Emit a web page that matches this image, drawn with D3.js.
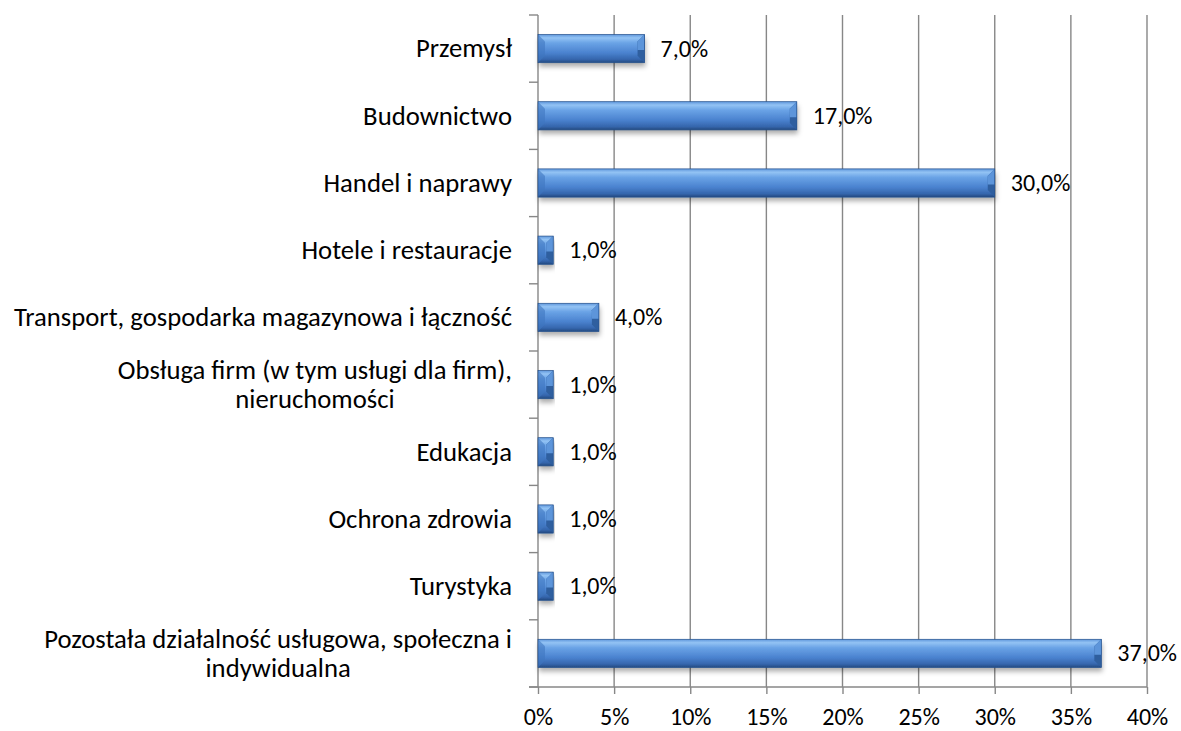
<!DOCTYPE html>
<html>
<head>
<meta charset="utf-8">
<script src="https://cdn.jsdelivr.net/npm/d3@7"></script>
<style>
  body { margin: 0; background: #fff; }
  svg { font-family: Carlito, Lato, "Open Sans", sans-serif; }
</style>
</head>
<body>
<svg id="chart" width="1181" height="731"></svg>
<script>
// categories (each entry = label lines) and values
const categories = [
  ["Przemysł"],
  ["Budownictwo"],
  ["Handel i naprawy"],
  ["Hotele i restauracje"],
  ["Transport, gospodarka magazynowa i łączność"],
  ["Obsługa firm (w tym usługi dla firm),", "nieruchomości"],
  ["Edukacja"],
  ["Ochrona zdrowia"],
  ["Turystyka"],
  ["Pozostała działalność usługowa, społeczna i", "indywidualna"]
];
const values = [0.07, 0.17, 0.30, 0.01, 0.04, 0.01, 0.01, 0.01, 0.01, 0.37];
const xTicks = [0, 0.05, 0.10, 0.15, 0.20, 0.25, 0.30, 0.35, 0.40];

const svg = d3.select("#chart");
const plotLeft = 538, plotRight = 1147, plotTop = 15, plotBottom = 687;
const axisColor = "#878787";

const x = d3.scaleLinear().domain([0, 0.4]).range([plotLeft, plotRight]);
const y = d3.scaleBand()
  .domain(d3.range(categories.length))
  .range([plotTop, plotBottom])
  .paddingInner(0.58)
  .paddingOuter(0.29);

const defs = svg.append("defs");
const grad = defs.append("linearGradient")
  .attr("id", "barGrad").attr("x1", 0).attr("y1", 0).attr("x2", 0).attr("y2", 1);
grad.append("stop").attr("offset", "0%").attr("stop-color", "#5f97dc");
grad.append("stop").attr("offset", "12%").attr("stop-color", "#93c3f4");
grad.append("stop").attr("offset", "30%").attr("stop-color", "#6aa3e6");
grad.append("stop").attr("offset", "65%").attr("stop-color", "#4a82cf");
grad.append("stop").attr("offset", "88%").attr("stop-color", "#3566ad");
grad.append("stop").attr("offset", "100%").attr("stop-color", "#23497f");

const shadow = defs.append("filter").attr("id", "shadow")
  .attr("x", "-5%").attr("y", "-20%").attr("width", "115%").attr("height", "170%");
shadow.append("feDropShadow")
  .attr("dx", 1).attr("dy", 4).attr("stdDeviation", 2.5)
  .attr("flood-color", "#000").attr("flood-opacity", 0.32);

// vertical gridlines
svg.append("g")
  .selectAll("line")
  .data(xTicks.slice(1))
  .join("line")
  .attr("x1", d => x(d)).attr("x2", d => x(d))
  .attr("y1", plotTop).attr("y2", plotBottom)
  .attr("stroke", axisColor).attr("stroke-width", 1.4);

// bottom axis
const xAxis = d3.axisBottom(x)
  .tickValues(xTicks)
  .tickSize(7)
  .tickFormat(d3.format(".0%"));
const gx = svg.append("g")
  .attr("transform", `translate(0,${plotBottom})`)
  .call(xAxis);
gx.select(".domain").remove();
gx.selectAll(".tick line").attr("stroke", axisColor).attr("stroke-width", 1.4);
gx.selectAll(".tick text")
  .attr("font-size", 24).attr("fill", "#000")
  .attr("font-family", "Carlito, Lato, 'Open Sans', sans-serif")
  .attr("y", 38).attr("dy", null);
svg.append("line")
  .attr("x1", plotLeft - 9).attr("x2", plotRight).attr("y1", plotBottom).attr("y2", plotBottom)
  .attr("stroke", axisColor).attr("stroke-width", 1.4);

// left axis with ticks between categories
const boundaries = d3.range(categories.length + 1)
  .map(i => plotTop + i * (plotBottom - plotTop) / categories.length);
svg.append("line")
  .attr("x1", plotLeft).attr("x2", plotLeft).attr("y1", plotTop).attr("y2", plotBottom)
  .attr("stroke", axisColor).attr("stroke-width", 1.4);
svg.append("g").selectAll("line")
  .data(boundaries)
  .join("line")
  .attr("x1", plotLeft - 9).attr("x2", plotLeft)
  .attr("y1", d => d).attr("y2", d => d)
  .attr("stroke", axisColor).attr("stroke-width", 1.4);

// bars
const bw = y.bandwidth();
const bar = svg.append("g").selectAll("g")
  .data(values)
  .join("g")
  .attr("transform", (d, i) => `translate(${x(0)},${y(i)})`);

bar.append("rect")
  .attr("width", d => x(d) - x(0))
  .attr("height", bw)
  .attr("fill", "url(#barGrad)")
  .attr("filter", "url(#shadow)");

// bevelled ends: light upper facet, dark lower facet
const bev = 7;
bar.append("path")
  .attr("d", d => {
    const w = x(d) - x(0);
    return `M${w - bev},${bev} L${w},0 L${w},${bw} L${w - bev},${bw - bev} Z`;
  })
  .attr("fill", "#2f5f9f");
bar.append("path")
  .attr("d", d => {
    const w = x(d) - x(0);
    return `M${w - bev},${bev} L${w},0 L${w},${bw * 0.55} L${w - bev},${bw * 0.55} Z`;
  })
  .attr("fill", "#5d95da");
bar.append("path")
  .attr("d", d => {
    const w = x(d) - x(0);
    const b = Math.min(bev, w / 2);
    return `M0,0 L${b},${b} L${b},${bw - b} L0,${bw} Z`;
  })
  .attr("fill", "#3f76c0").attr("opacity", 0.6);
bar.append("rect")
  .attr("width", d => x(d) - x(0))
  .attr("height", bw)
  .attr("fill", "none")
  .attr("stroke", "#25518c").attr("stroke-width", 0.7);

// data labels
const fmt = v => d3.format(".1f")(v * 100).replace(".", ",") + "%";
svg.append("g").selectAll("text")
  .data(values)
  .join("text")
  .attr("x", d => x(d) + 16)
  .attr("y", (d, i) => y(i) + bw / 2)
  .attr("dy", "0.33em")
  .attr("font-size", 24)
  .text(fmt);

// category labels (multi-line labels centred on their widest line)
const labelRight = 512, lineH = 29;
const lab = svg.append("g").selectAll("text")
  .data(categories)
  .join("text")
  .attr("font-size", 26.7)
  .attr("text-anchor", "middle");
lab.each(function(lines, i) {
  const t = d3.select(this);
  const cy = y(i) + bw / 2;
  const spans = t.selectAll("tspan").data(lines).join("tspan")
    .attr("dy", (d, j) => j === 0 ? "0.33em" : `${lineH}px`)
    .text(d => d);
  const widest = d3.max(spans.nodes(), n => n.getComputedTextLength());
  spans.attr("x", labelRight - widest / 2);
  t.attr("y", cy - (lines.length - 1) * lineH / 2);
});
</script>
</body>
</html>
